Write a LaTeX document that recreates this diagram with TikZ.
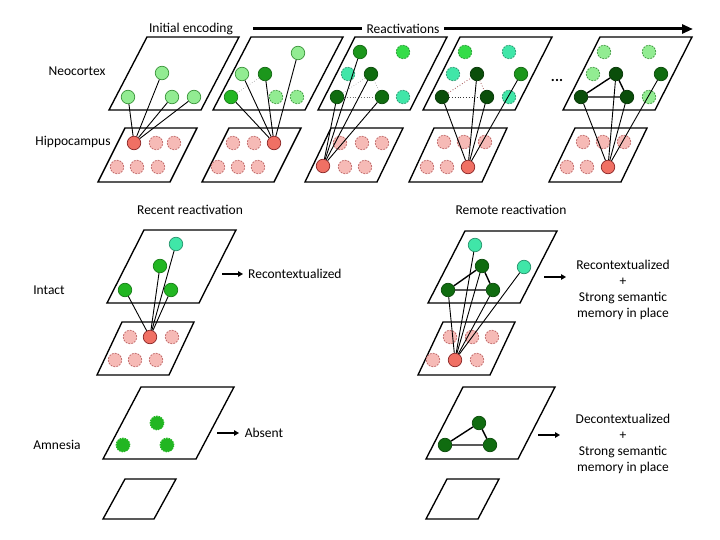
\documentclass[tikz,border=0pt]{standalone}
\usepackage{fontspec}
\setmainfont{Carlito}
\usetikzlibrary{arrows.meta}
\definecolor{lgreen}{RGB}{146,236,146}
\definecolor{lgreenD}{RGB}{60,150,60}
\definecolor{mint}{RGB}{64,230,168}
\definecolor{mintD}{RGB}{40,150,110}
\definecolor{bgreen}{RGB}{34,182,34}
\definecolor{mgreen}{RGB}{28,150,28}
\definecolor{dgreen}{RGB}{16,108,16}
\definecolor{xgreen}{RGB}{10,78,10}
\definecolor{vgreen}{RGB}{52,220,72}
\definecolor{redc}{RGB}{240,112,100}
\definecolor{redD}{RGB}{140,40,40}
\definecolor{pinkc}{RGB}{246,186,182}
\definecolor{pinkD}{RGB}{190,100,100}
\newcommand{\plane}[5]{\draw[plane] (#1,#2) -- ++(#3,0) -- ++(#5,-#4) -- ++(-#3,0) -- cycle;}
\tikzset{
  plane/.style={draw=black, line width=1.35pt, line join=miter},
  cell/.style={circle, minimum size=13.5pt, inner sep=0pt, line width=0.75pt},
  dsh/.style={dash pattern=on 1.8pt off 1.2pt},
  lg/.style={cell, fill=lgreen, draw=lgreenD},
  lgd/.style={lg, dsh},
  mt/.style={cell, fill=mint, draw=mintD, dsh},
  mtS/.style={cell, fill=mint, draw=mintD},
  bg/.style={cell, fill=bgreen, draw=bgreen!70!black},
  blob/.style={cell, fill=bgreen, draw=bgreen, line width=1.2pt, dash pattern=on 1.5pt off 1pt},
  mg/.style={cell, fill=mgreen, draw=mgreen!70!black},
  dg/.style={cell, fill=dgreen, draw=dgreen!70!black},
  xg/.style={cell, fill=xgreen, draw=xgreen!70!black},
  vg/.style={cell, fill=vgreen, draw=vgreen!70!black, dsh},
  rd/.style={cell, fill=redc, draw=redD},
  pk/.style={cell, fill=pinkc, draw=pinkD, dsh},
  link/.style={draw=black, line width=0.9pt},
  faint/.style={draw=black!45, line width=0.6pt, dotted},
  dotl/.style={draw=black!80, line width=0.8pt, dotted},
  tri/.style={draw=black, line width=1.4pt},
  lbl/.style={font=\fontsize{13.5}{16}\selectfont, inner sep=1pt},
  shortarrow/.style={draw=black, line width=1.4pt, -{Triangle[length=5pt,width=5.5pt]}},
}
\begin{document}
\begin{tikzpicture}[x=1pt,y=-1pt]
\useasboundingbox (0,0) rectangle (720,540);
% ---------- top timeline ----------
\coordinate (ta) at (253,29);
\coordinate (tb) at (693,29);
\draw[line width=3pt, -{Triangle[length=11pt,width=9pt]}] (ta) -- (tb);
\node[lbl, fill=white, inner xsep=5pt] (treact) at (403,29) {Reactivations};
\node[lbl] (tinit) at (191,29) {Initial encoding};
\node[lbl] (lneo) at (77,71) {Neocortex};
\node[lbl] (lhip) at (73,142) {Hippocampus};
\node[lbl, font=\fontsize{15}{16}\selectfont\bfseries] (dots) at (557,80) {...};
% ---------- planes top row ----------
\plane{109}{110}{92}{73}{38}
\plane{213}{110}{92}{73}{38}
\plane{318}{110}{92}{73}{37}
\plane{423}{110}{92}{73}{37}
\plane{563}{110}{92}{73}{37}
\plane{98}{182}{72}{54}{27}
\plane{202}{182}{72}{54}{27}
\plane{305}{182}{72}{54}{26}
\plane{409}{182}{73}{54}{25}
\plane{549}{182}{72}{54}{26}
% ---------- panel 1 ----------
\foreach \n/\x/\y in {a/156/143,b/174/143,c/117/167,d/137/167,e/158/167}
  \node[pk] (p1\n) at (\x,\y) {};
\node[rd] (r1) at (134,143) {};
\node[lg] (n1a) at (128,97) {};
\node[lg] (n1b) at (162,73) {};
\node[lg] (n1c) at (172,97) {};
\node[lg] (n1d) at (194,97) {};
\foreach \t in {n1a,n1b,n1c,n1d} \draw[link] (r1) -- (\t);
% ---------- panel 2 ----------
\foreach \n/\x/\y in {a/233/143,b/254/143,c/218/167,d/238/167,e/258/167}
  \node[pk] (p2\n) at (\x,\y) {};
\node[rd] (r2) at (274,143) {};
\node[lg] (n2a) at (298,53) {};
\node[lg] (n2b) at (242,74) {};
\node[mg] (n2c) at (265,74) {};
\node[bg] (n2d) at (231,97) {};
\node[lgd] (n2e) at (276,97) {};
\node[lgd] (n2f) at (297,97) {};
\draw[faint] (n2d) -- (n2c);
\foreach \t in {n2a,n2b,n2c,n2d} \draw[link] (r2) -- (\t);
% ---------- panel 3 ----------
\foreach \n/\x/\y in {a/340/143,b/362/143,c/382/143,d/345/167,e/365/167}
  \node[pk] (p3\n) at (\x,\y) {};
\node[rd] (r3) at (323,166) {};
\node[mg] (n3a) at (360,52) {};
\node[vg] (n3b) at (403,52) {};
\node[mt] (n3c) at (348,74) {};
\node[dg] (n3d) at (371,74) {};
\node[dg] (n3e) at (337,97) {};
\node[dg] (n3f) at (382,97) {};
\node[mt] (n3g) at (403,97) {};
\draw[dotl, draw=black!55] (n3e) -- (n3f);
\draw[faint] (n3e) -- (n3d);
\draw[faint] (n3d) -- (n3f);
\foreach \t in {n3a,n3d,n3e,n3f} \draw[link] (r3) -- (\t);
% ---------- panel 4 ----------
\foreach \n/\x/\y in {a/444/142,b/464/142,c/485/142,d/427/167,e/447/167}
  \node[pk] (p4\n) at (\x,\y) {};
\node[rd] (r4) at (468,167) {};
\node[vg] (n4a) at (465,52) {};
\node[mt] (n4b) at (509,52) {};
\node[mt] (n4c) at (453,74) {};
\node[xg] (n4d) at (477,74) {};
\node[mg] (n4e) at (521,74) {};
\node[xg] (n4f) at (442,97) {};
\node[xg] (n4g) at (487,97) {};
\node[mt] (n4h) at (509,97) {};
\draw[dotl, draw=redD!80] (n4f) -- (n4d);
\draw[dotl] (n4f) -- (n4g);
\draw[dotl, draw=redD!80] (n4d) -- (n4g);
\foreach \t in {n4d,n4e,n4f,n4g} \draw[link] (r4) -- (\t);
% ---------- panel 5 ----------
\foreach \n/\x/\y in {a/583/142,b/603/142,c/624/142,d/567/167,e/587/167}
  \node[pk] (p5\n) at (\x,\y) {};
\node[rd] (r5) at (608,167) {};
\node[lgd] (n5a) at (604,52) {};
\node[lgd] (n5b) at (649,52) {};
\node[lgd] (n5c) at (593,74) {};
\node[xg] (n5d) at (616,74) {};
\node[dg] (n5e) at (661,74) {};
\node[xg] (n5f) at (581,97) {};
\node[xg] (n5g) at (627,97) {};
\node[lgd] (n5h) at (649,97) {};
\draw[tri] (n5f) -- (n5d) -- (n5g) -- (n5f);
\foreach \t in {n5d,n5e,n5f,n5g} \draw[link] (r5) -- (\t);
% ---------- section headings ----------
\node[lbl] (hrecent) at (190,210) {Recent reactivation};
\node[lbl] (hremote) at (511,210) {Remote reactivation};
\node[lbl] (lintact) at (49,290) {Intact};
\node[lbl] (lamn) at (57,445) {Amnesia};
% ---------- recent intact ----------
\plane{107}{303}{92}{73}{37}
\plane{97}{375}{72}{53}{25}
\foreach \n/\x/\y in {a/130/337,b/172/337,c/115/360,d/135/360,e/156/360}
  \node[pk] (q1\n) at (\x,\y) {};
\node[rd] (rr) at (150,337) {};
\node[mtS] (ra) at (176,244) {};
\node[bg] (rb) at (160,266) {};
\node[bg] (rc) at (125,290) {};
\node[bg] (rdn) at (171,290) {};
\foreach \t in {ra,rb,rc,rdn} \draw[link] (rr) -- (\t);
\coordinate (ar1a) at (222,274);
\coordinate (ar1b) at (243,274);
\draw[shortarrow] (ar1a) -- (ar1b);
\node[lbl, anchor=west] (trecon) at (247,274) {Recontextualized};
% ---------- remote intact ----------
\plane{428}{303}{92}{72}{37}
\plane{418}{375}{72}{53}{25}
\foreach \n/\x/\y in {a/450/337,b/472/337,c/492/337,d/433/360,e/477/360}
  \node[pk] (q2\n) at (\x,\y) {};
\node[rd] (mr) at (455,360) {};
\node[mtS] (ma) at (475,245) {};
\node[mtS] (mb) at (524,267) {};
\node[dg] (mc) at (482,266) {};
\node[dg] (md) at (448,290) {};
\node[dg] (me) at (493,290) {};
\draw[tri] (md) -- (mc) -- (me) -- (md);
\foreach \t in {ma,mb,mc,md,me} \draw[link] (mr) -- (\t);
\coordinate (ar2a) at (544,277);
\coordinate (ar2b) at (566,277);
\draw[shortarrow] (ar2a) -- (ar2b);
\node[lbl, align=center] (trecon2) at (623,290) {Recontextualized\\+\\Strong semantic\\memory in place};
% ---------- recent amnesia ----------
\plane{103}{459}{93}{72}{38}
\plane{103}{519}{51}{40}{22}
\node[blob] (ba) at (157,423) {};
\node[blob] (bb) at (123,445) {};
\node[blob] (bc) at (167,445) {};
\coordinate (ar3a) at (217,433);
\coordinate (ar3b) at (239,433);
\draw[shortarrow] (ar3a) -- (ar3b);
\node[lbl] (tabs) at (264,433) {Absent};
% ---------- remote amnesia ----------
\plane{426}{459}{92}{72}{37}
\plane{426}{519}{52}{40}{21}
\node[dg] (da) at (479,423) {};
\node[dg] (db) at (445,445) {};
\node[dg] (dc) at (490,445) {};
\draw[tri] (db) -- (da) -- (dc) -- (db);
\coordinate (ar4a) at (538,435);
\coordinate (ar4b) at (560,435);
\draw[shortarrow] (ar4a) -- (ar4b);
\node[lbl, align=center] (tdecon) at (623,444) {Decontextualized\\+\\Strong semantic\\memory in place};
\end{tikzpicture}
\end{document}
